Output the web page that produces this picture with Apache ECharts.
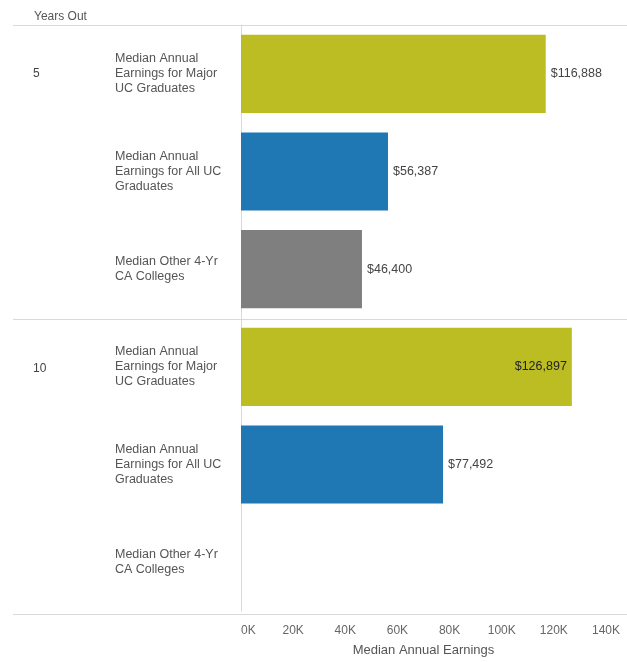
<!DOCTYPE html>
<html>
<head>
<meta charset="utf-8">
<script src="https://cdn.jsdelivr.net/npm/echarts@6/dist/echarts.min.js"></script>
<style>
html,body{margin:0;padding:0;background:#fff;}
#chart{width:627px;height:662px;}
</style>
</head>
<body>
<div id="chart"></div>
<script>
// ---- data ----
const years = ['5', '10'];
const measures = [
  'Median Annual\nEarnings for Major\nUC Graduates',
  'Median Annual\nEarnings for All UC\nGraduates',
  'Median Other 4-Yr\nCA Colleges'
];
const earnings5 = [116888, 56387, 46400];
const earnings10 = [126897, 77492, null];
const xTickValues = [0, 20000, 40000, 60000, 80000, 100000, 120000, 140000];
const measureColors = ['#bcbd22', '#1f77b4', '#7f7f7f'];

// ---- build rows ----
const byYear = [earnings5, earnings10];
const rowKeys = [];
const rowMeasure = [];
const rowYear = [];
const barData = [];
years.forEach((y, yi) => {
  measures.forEach((m, mi) => {
    rowKeys.push(y + '|' + mi);
    rowMeasure.push(m);
    rowYear.push(mi === 0 ? y : '');
    const v = byYear[yi][mi];
    barData.push(v == null ? null : {
      value: v,
      itemStyle: { color: measureColors[mi] },
      label: v >= 125000 ? { position: 'insideRight', color: '#222' } : { position: 'right', color: '#444' }
    });
  });
});

const FONT = 'Arial, "Liberation Sans", sans-serif';
const fmtMoney = v => '$' + Math.round(v).toLocaleString('en-US');

const chart = echarts.init(document.getElementById('chart'));
chart.setOption({
  animation: false,
  textStyle: { fontFamily: FONT },
  title: {
    text: 'Years Out', left: 29, top: 6,
    textStyle: { fontSize: 12, fontWeight: 'normal', color: '#555', fontFamily: FONT }
  },
  grid: [
    { left: 13, right: 0, top: 25, bottom: 48 },
    { left: 241, right: 21, top: 25, bottom: 48 }
  ],
  xAxis: [
    { gridIndex: 0, type: 'value', show: false, min: 0, max: 1 },
    {
      gridIndex: 1, type: 'value', min: 0, max: 140000, interval: 20000,
      axisLine: { show: false }, axisTick: { show: false }, splitLine: { show: false },
      axisLabel: {
        color: '#666', fontSize: 12, margin: 14, alignMinLabel: 'left',
        formatter: v => xTickValues.includes(v) ? (v / 1000) + 'K' : ''
      },
      name: 'Median Annual Earnings', nameLocation: 'middle', nameGap: 33,
      nameTextStyle: { color: '#555', fontSize: 13, fontFamily: FONT }
    }
  ],
  yAxis: [
    {
      gridIndex: 0, type: 'category', inverse: true, data: years, position: 'left',
      axisLine: { show: false }, axisTick: { show: false }, axisLabel: { show: false },
      splitLine: { show: true, lineStyle: { color: '#d9d9d9', width: 1 } }
    },
    {
      gridIndex: 0, type: 'category', inverse: true, data: rowKeys, position: 'left',
      axisLine: { show: false }, axisTick: { show: false }, splitLine: { show: false },
      axisLabel: {
        inside: true, margin: 20, color: '#444', fontSize: 12,
        formatter: (v, i) => rowYear[i]
      }
    },
    {
      gridIndex: 1, type: 'category', inverse: true, data: rowKeys, position: 'left',
      axisLine: { show: true, lineStyle: { color: '#d9d9d9' } },
      axisTick: { show: false },
      axisLabel: {
        align: 'left', margin: 126, color: '#555', fontSize: 12.5, lineHeight: 15,
        formatter: (v, i) => rowMeasure[i]
      }
    }
  ],
  series: [
    {
      type: 'bar', xAxisIndex: 1, yAxisIndex: 2, data: barData,
      barCategoryGap: '20%',
      label: {
        show: true, fontSize: 12.5, distance: 5,
        formatter: p => fmtMoney(p.value)
      }
    }
  ]
});
</script>
</body>
</html>
